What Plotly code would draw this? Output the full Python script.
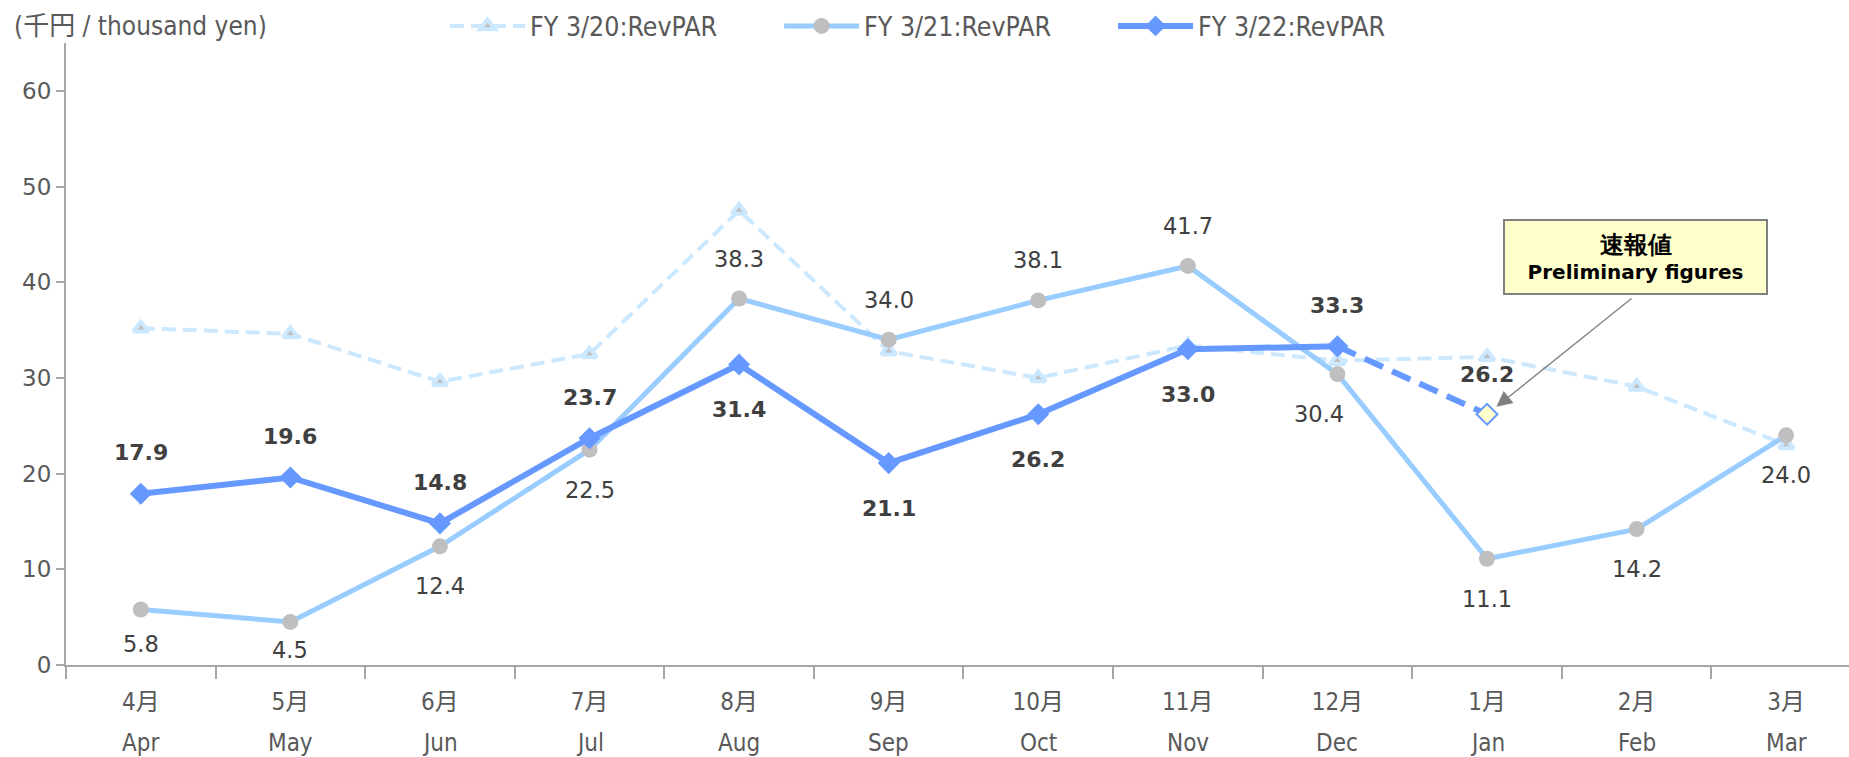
import plotly.graph_objects as go

# ---- data ----
months_jp = ["4月", "5月", "6月", "7月", "8月", "9月", "10月", "11月", "12月", "1月", "2月", "3月"]
months_en = ["Apr", "May", "Jun", "Jul", "Aug", "Sep", "Oct", "Nov", "Dec", "Jan", "Feb", "Mar"]
fy20 = [35.2, 34.6, 29.6, 32.5, 47.5, 32.8, 30.0, 33.4, 31.8, 32.2, 29.1, 23.0]
fy21 = [5.8, 4.5, 12.4, 22.5, 38.3, 34.0, 38.1, 41.7, 30.4, 11.1, 14.2, 24.0]
fy22 = [17.9, 19.6, 14.8, 23.7, 31.4, 21.1, 26.2, 33.0, 33.3]
fy22_prelim_month = "1月"
fy22_prelim = 26.2
series_names = ["FY 3/20:RevPAR", "FY 3/21:RevPAR", "FY 3/22:RevPAR"]
unit_label = "(千円 / thousand yen)"
callout_jp = "速報値"
callout_en = "Preliminary figures"

# label placement (style, not data)
fy21_side = ["below", "below", "below", "below", "above", "above", "above", "above",
             "below", "below", "below", "below"]
fy22_side = ["above", "above", "above", "above", "below", "below", "below", "below", "above"]
fy21_shift_override = {"Apr": -34, "May": -28}

C20 = "#CCE8FF"
C21 = "#99CCFF"
C22 = "#6699FF"
GRAY_MK = "#BFBFBF"
TXT = "#595959"
LBL = "#404040"
AX = "#A6A6A6"
COND = "DejaVu Sans Condensed, Liberation Sans Narrow, Noto Sans CJK JP, sans-serif"
NUM = "DejaVu Sans, Verdana, sans-serif"

fig = go.Figure()

fig.add_trace(go.Scatter(
    x=months_jp, y=fy20, name=series_names[0], mode="lines+markers",
    line=dict(color=C20, width=4, dash="14px,7px"),
    marker=dict(symbol="triangle-up", size=13, color=GRAY_MK, line=dict(color=C20, width=4)),
))
fig.add_trace(go.Scatter(
    x=months_jp, y=fy21, name=series_names[1], mode="lines+markers",
    line=dict(color=C21, width=5),
    marker=dict(symbol="circle", size=16, color=GRAY_MK),
))
# dashed preliminary segment Dec -> Jan
fig.add_trace(go.Scatter(
    x=[months_jp[len(fy22) - 1], fy22_prelim_month], y=[fy22[-1], fy22_prelim],
    mode="lines", showlegend=False,
    line=dict(color=C22, width=6, dash="20px,10px"),
))
fig.add_trace(go.Scatter(
    x=months_jp[:len(fy22)], y=fy22, name=series_names[2], mode="lines+markers",
    line=dict(color=C22, width=6),
    marker=dict(symbol="diamond", size=17, color=C22),
))
fig.add_trace(go.Scatter(
    x=[fy22_prelim_month], y=[fy22_prelim], mode="markers", showlegend=False,
    marker=dict(symbol="diamond", size=16, color="#FFFFCC", line=dict(color=C22, width=2)),
))

ann = []
for i, v in enumerate(fy21):
    ys = 40 if fy21_side[i] == "above" else -40
    ys = fy21_shift_override.get(months_en[i], ys)
    ann.append(dict(
        x=months_jp[i], y=v, xref="x", yref="y", text=f"{v:.1f}", showarrow=False,
        yshift=ys,
        xshift=-18 if months_en[i] == "Dec" else 0,
        font=dict(family=NUM, size=22.5, color=LBL),
    ))
for i, v in enumerate(fy22):
    ann.append(dict(
        x=months_jp[i], y=v, xref="x", yref="y", text=f"<b>{v:.1f}</b>", showarrow=False,
        yshift=41 if fy22_side[i] == "above" else -45,
        font=dict(family=NUM, size=22, color=LBL),
    ))
ann.append(dict(
    x=fy22_prelim_month, y=fy22_prelim, xref="x", yref="y", text=f"<b>{fy22_prelim:.1f}</b>",
    showarrow=False, yshift=40, font=dict(family=NUM, size=22, color=LBL),
))
# English month row
for jp, en in zip(months_jp, months_en):
    ann.append(dict(
        x=jp, y=0, xref="x", yref="paper", text=en, showarrow=False,
        yshift=-78, yanchor="middle", font=dict(family=COND, size=24, color=TXT),
    ))
# unit label
ann.append(dict(
    x=-0.0303, y=1.027, xref="paper", yref="paper", text=unit_label, showarrow=False,
    xanchor="left", yanchor="middle", font=dict(family=COND, size=26, color=TXT),
))
# callout arrow
ann.append(dict(
    x=fy22_prelim_month, y=fy22_prelim, xref="x", yref="y", text="", showarrow=True,
    ax=146, ay=-117, arrowcolor="#7F7F7F", arrowwidth=1.3, arrowhead=2, arrowsize=2.4,
    standoff=12,
))
# callout box
ann.append(dict(
    x=fy22_prelim_month, y=fy22_prelim, xref="x", yref="y",
    text=f"<b><span style='font-size:24px'>{callout_jp}</span></b><br><b>{callout_en}</b>",
    showarrow=False, xshift=148, yshift=157, width=257, height=68,
    bgcolor="#FFFFCC", bordercolor="#808080", borderwidth=2, borderpad=2,
    font=dict(family=NUM, size=20, color="#000000"), align="center",
))

fig.update_layout(
    width=1849, height=757,
    margin=dict(l=66, r=0, t=43, b=92),
    paper_bgcolor="white", plot_bgcolor="white",
    annotations=ann,
    showlegend=True,
    legend=dict(
        orientation="h", x=0.2126, xanchor="left", y=1.027, yanchor="middle",
        font=dict(family=COND, size=26.5, color=TXT),
        itemwidth=75, entrywidth=244, entrywidthmode="pixels",
        bgcolor="rgba(0,0,0,0)",
    ),
    xaxis=dict(
        type="category", categoryorder="array", categoryarray=months_jp,
        range=[-0.5, 11.42], tickson="boundaries", ticks="outside", ticklen=12,
        tickcolor=AX, tickwidth=1.5, showline=True, linecolor=AX, linewidth=2,
        showgrid=False, zeroline=False, ticklabelstandoff=14,
        tickfont=dict(family=COND, size=24, color=TXT),
    ),
    yaxis=dict(
        range=[0, 65], tickvals=[0, 10, 20, 30, 40, 50, 60], ticks="outside", ticklen=8,
        tickcolor=AX, tickwidth=1.5, showline=True, linecolor=AX, linewidth=2,
        showgrid=False, zeroline=False,
        tickfont=dict(family=NUM, size=23, color=TXT),
    ),
)

fig.write_html(
    "out.html",
    config={"displayModeBar": False},
    post_script="document.body.style.margin='0';document.body.style.overflow='hidden';",
)
